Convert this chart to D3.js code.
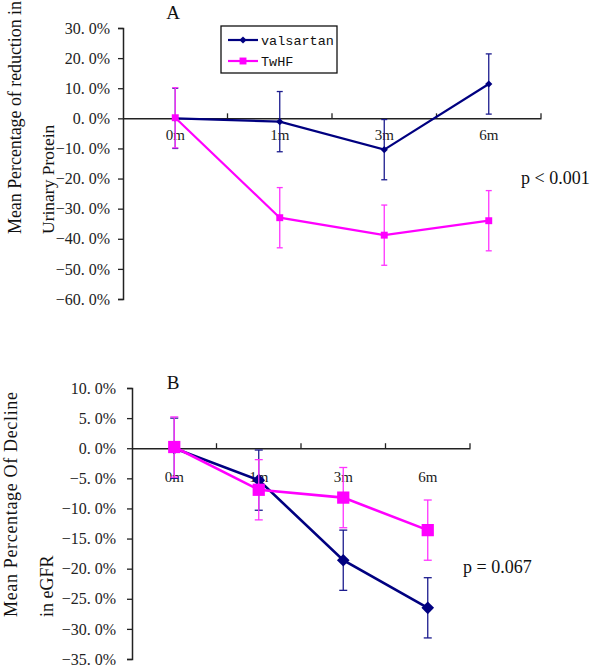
<!DOCTYPE html>
<html><head><meta charset="utf-8">
<script src="https://cdn.jsdelivr.net/npm/d3@7"></script>
<style>body{margin:0;background:#fff}svg{display:block}</style>
</head><body>
<svg id="c" width="600" height="670"></svg>
<script>
const categories = ["0m", "1m", "3m", "6m"];
const seriesNames = ["valsartan", "TwHF"];
const seriesColors = ["#000080", "#ff00ff"];

// Panel A: urinary protein reduction (%)
const aValsartan = [0, -1.1, -10.4, 11.4];
const aValsartanErr = [10, 10, 10, 10];
const aTwHF = [0.2, -33.0, -38.8, -34.0];
const aTwHFErr = [10, 10, 10, 10];
const aTicks = [30, 20, 10, 0, -10, -20, -30, -40, -50, -60];

// Panel B: eGFR decline (%)
const bValsartan = [0, -5.3, -18.6, -26.5];
const bValsartanErr = [5, 5, 5, 5];
const bTwHF = [0.2, -6.9, -8.2, -13.6];
const bTwHFErr = [5, 5, 5, 5];
const bTicks = [10, 5, 0, -5, -10, -15, -20, -25, -30, -35];

const svg = d3.select("#c");
const serif = "'Liberation Serif', 'Times New Roman', serif";

function panel(o) {
  const x = d3.scaleBand().domain(categories).range([o.x0, o.x1]);
  const y = d3.scaleLinear().domain([o.ticks[o.ticks.length - 1], o.ticks[0]]).range([o.y1, o.y0]);
  const g = svg.append("g");

  // y axis
  const ya = g.append("g").attr("transform", `translate(${o.x0},0)`)
    .call(d3.axisLeft(y).tickValues(o.ticks).tickSize(5).tickPadding(o.tickPad)
      .tickFormat(d => (d < 0 ? "\u2212" : "") + d3.format(".1f")(Math.abs(d)).replace(".", ". ") + "%"));
  ya.attr("font-family", serif).attr("font-size", 16);
  ya.select(".domain").attr("stroke", "#222").attr("stroke-width", 1.5);
  ya.selectAll(".tick line").attr("stroke", "#222").attr("stroke-width", 1.3);
  ya.selectAll("text").attr("font-family", serif).attr("font-size", 16).attr("fill", "#222");

  // x axis at zero
  const xa = g.append("g").attr("transform", `translate(0,${y(0)})`)
    .call(d3.axisBottom(x).tickSize(0).tickFormat(""));
  xa.select(".domain").attr("stroke", "#222").attr("stroke-width", 1.5);
  const edges = d3.range(categories.length + 1).map(i => o.x0 + i * x.bandwidth()).slice(1);
  g.selectAll(".xt").data(edges).join("line")
    .attr("x1", d => d).attr("x2", d => d).attr("y1", y(0)).attr("y2", y(0) - 5)
    .attr("stroke", "#222").attr("stroke-width", 1.3);
  g.selectAll(".xl").data(categories).join("text")
    .attr("x", d => x(d) + x.bandwidth() / 2).attr("y", y(0) + o.labOff)
    .attr("text-anchor", "middle").attr("font-family", serif).attr("font-size", 15)
    .attr("fill", "#222").text(d => d);

  // series
  o.series.forEach((s, si) => {
    const col = seriesColors[si];
    const pts = categories.map((c, i) => ({ c, v: s.v[i], e: s.e[i] }));
    const cx = d => x(d.c) + x.bandwidth() / 2;
    const eb = g.append("g").attr("stroke", si === 0 ? "#1c1c8e" : "#ff33ff").attr("stroke-width", 1.3);
    eb.selectAll(".v").data(pts).join("line").attr("x1", cx).attr("x2", cx)
      .attr("y1", d => y(d.v + d.e)).attr("y2", d => y(d.v - d.e));
    [1, -1].forEach(sg => {
      eb.selectAll(".c" + sg).data(pts).join("line")
        .attr("x1", d => cx(d) - o.cap).attr("x2", d => cx(d) + o.cap)
        .attr("y1", d => y(d.v + sg * d.e)).attr("y2", d => y(d.v + sg * d.e));
    });
    g.append("path").datum(pts).attr("fill", "none").attr("stroke", col).attr("stroke-width", o.lw)
      .attr("d", d3.line().x(cx).y(d => y(d.v)));
    g.selectAll(".m" + si).data(pts).join("path")
      .attr("d", d3.symbol().type(d3.symbolSquare).size(si === 0 ? o.ds : o.ss))
      .attr("transform", d => `translate(${cx(d)},${y(d.v)})` + (si === 0 ? " rotate(45)" : ""))
      .attr("fill", col);
  });

  g.append("text").attr("x", o.letterX).attr("y", o.letterY).attr("text-anchor", "middle")
    .attr("font-family", serif).attr("font-size", 19).attr("fill", "#111").text(o.letter);
  g.append("text").attr("x", o.pX).attr("y", o.pY).attr("font-family", serif)
    .attr("font-size", 18).attr("fill", "#111").text(o.pText);
  o.titles.forEach(t => {
    const tx = g.append("text").attr("transform", `translate(${t.x},${o.titleY}) rotate(-90)`)
      .attr("font-family", serif).attr("font-size", t.fs).attr("fill", "#111").text(t.text);
    if (t.len) tx.attr("textLength", t.len).attr("lengthAdjust", "spacing");
  });
  return { x, y };
}

panel({
  x0: 123, x1: 541, y0: 28, y1: 299, ticks: aTicks, tickPad: 8, labOff: 22,
  series: [{ v: aValsartan, e: aValsartanErr }, { v: aTwHF, e: aTwHFErr }],
  cap: 3, lw: 2.2, ds: 26, ss: 48,
  letter: "A", letterX: 173, letterY: 19, pText: "p < 0.001", pX: 521, pY: 184,
  titleY: 234,
  titles: [{ x: 21, fs: 18, text: "Mean Percentage of reduction in", len: 233 },
           { x: 54, fs: 17.5, text: "Urinary Protein" }]
});

panel({
  x0: 132, x1: 470, y0: 388, y1: 659, ticks: bTicks, tickPad: 11, labOff: 34,
  series: [{ v: bValsartan, e: bValsartanErr }, { v: bTwHF, e: bTwHFErr }],
  cap: 4, lw: 2.6, ds: 80, ss: 150,
  letter: "B", letterX: 173, letterY: 389, pText: "p = 0.067", pX: 463, pY: 573,
  titleY: 617,
  titles: [{ x: 17, fs: 18, text: "Mean Percentage Of Decline", len: 225 },
           { x: 53, fs: 18, text: "in eGFR" }]
});

// legend (panel A)
const lg = svg.append("g");
lg.append("rect").attr("x", 221).attr("y", 26).attr("width", 116).attr("height", 47)
  .attr("fill", "#fff").attr("stroke", "#111").attr("stroke-width", 1.3);
seriesNames.forEach((n, i) => {
  const yy = [40, 61][i];
  lg.append("line").attr("x1", 228).attr("x2", 258).attr("y1", yy).attr("y2", yy)
    .attr("stroke", seriesColors[i]).attr("stroke-width", 2.2);
  lg.append("path").attr("d", d3.symbol().type(d3.symbolSquare).size(i === 0 ? 26 : 48))
    .attr("transform", `translate(243,${yy})` + (i === 0 ? " rotate(45)" : "")).attr("fill", seriesColors[i]);
  lg.append("text").attr("x", 261).attr("y", yy + 5).attr("font-family", "'Liberation Mono', monospace")
    .attr("font-size", 13.5).attr("fill", "#111").text(n);
});
</script>
</body></html>
